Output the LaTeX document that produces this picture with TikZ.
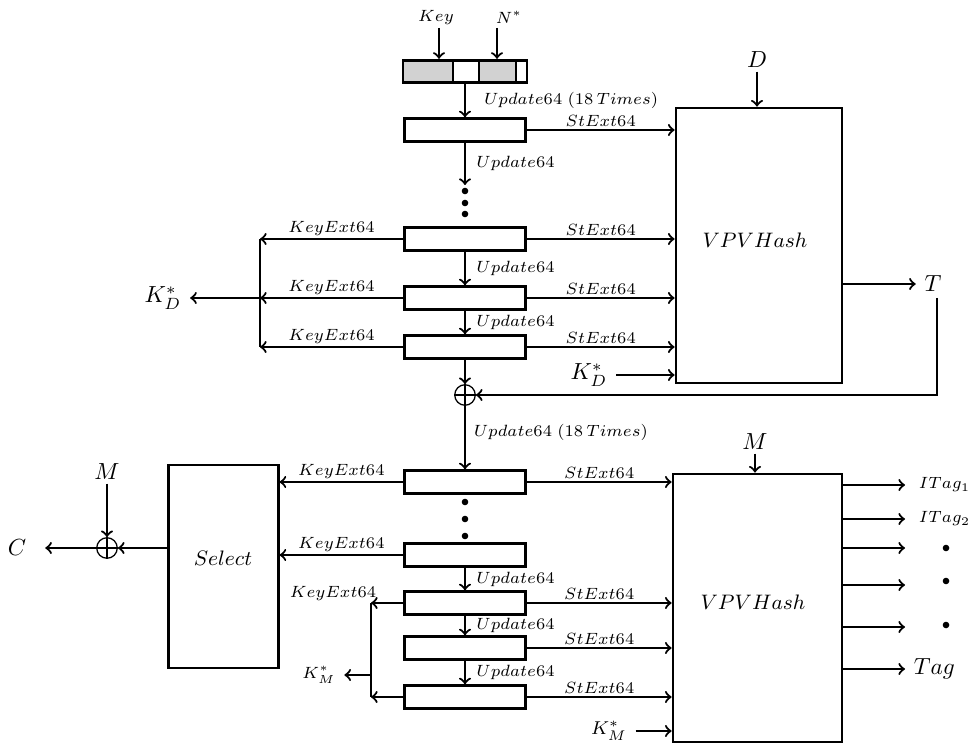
\documentclass[tikz,border=0pt]{standalone}
\usepackage{amsmath}
\usepackage{amssymb}
\usepackage{tikz}

\begin{document}
\begin{tikzpicture}[x=1.509mm, y=1.509mm, line width=0.93pt,
    stbox/.style={draw, line width=1.2pt, minimum width=18.25mm, minimum height=3.4mm, inner sep=0pt},
    hashbox/.style={draw, line width=1.2pt, inner sep=0pt},
    lbl/.style={font=\scriptsize, inner sep=1.1pt},
    xorop/.style={circle, draw, line width=0.55pt, minimum size=3.1mm, inner sep=0pt,
      path picture={\draw[line width=0.55pt] (path picture bounding box.north) -- (path picture bounding box.south)
        (path picture bounding box.west) -- (path picture bounding box.east);}}]
  \useasboundingbox (0,0) rectangle (97.1,-74.4);
  % key and nonce loaded into the state
  \fill[gray!35] (40.3,-6.0) rectangle (45.3,-8.3);
  \fill[gray!35] (47.9,-6.0) rectangle (51.6,-8.3);
  \node[stbox, minimum width=18.7mm] (reg) at (46.5,-7.15) {};
  \draw[line width=1.2pt] (45.3,-6.0) -- (45.3,-8.3) (47.9,-6.0) -- (47.9,-8.3) (51.6,-6.0) -- (51.6,-8.3);
  \node[lbl] (key) at (43.6,-1.8) {$Key$};
  \node[lbl] (nonce) at (50.9,-1.7) {$N^{*}$};
  \coordinate (kin) at (43.9,-2.8);
  \coordinate (nin) at (49.7,-2.8);
  \draw[->] (kin) -- (kin |- reg.north);
  \draw[->] (nin) -- (nin |- reg.north);
  % first chain (tag key)
  \node[stbox] (st1) at (46.5,-13.0) {};
  \node[stbox] (st2) at (46.5,-23.9) {};
  \node[stbox] (st3) at (46.5,-29.8) {};
  \node[stbox] (st4) at (46.5,-34.7) {};
  \draw[->] (reg) -- (st1) node[lbl, midway, right, xshift=6.6pt] {$Update64\;(18\,Times)$};
  \coordinate (dt) at (46.5,-18.5);
  \draw[->] (st1) -- (dt) node[lbl, midway, right, xshift=3.3pt] {$Update64$};
  \foreach \y in {-19.1,-20.3,-21.4} \fill (46.5,\y) circle (0.33);
  \draw[->] (st2) -- (st3) node[lbl, midway, right, xshift=3.3pt] {$Update64$};
  \draw[->] (st3) -- (st4) node[lbl, midway, right, xshift=3.3pt] {$Update64$};
  % first hash
  \node[hashbox, minimum width=25.05mm, minimum height=41.5mm] (vpv1) at (75.9,-24.55) {};
  \node[font=\small] (h1txt) at (75.5,-24.0) {$VPVHash$};
  \foreach \n in {1,...,4} \draw[->] (st\n.east) -- (st\n.east -| vpv1.west) node[lbl, midway, above] {$StExt64$};
  \node[inner sep=1.1pt] (dlab) at (75.7,-6.0) {$D$};
  \draw[->] (dlab) -- (dlab |- vpv1.north);
  \node (kdin) at (58.9,-37.5) {$K_D^{*}$};
  \draw[->] (kdin) -- (kdin -| vpv1.west);
  \node (tlab) at (93.3,-28.4) {$T$};
  \draw[->] (tlab -| vpv1.east) -- (tlab);
  % key words to the left
  \coordinate (kd) at (26.0,-29.8);
  \foreach \n in {2,3,4} \draw[->] (st\n.west) -- (st\n.west -| kd) node[lbl, midway, above] {$KeyExt64$};
  \draw (st2.west -| kd) -- (st4.west -| kd);
  \node (kdout) at (16.3,-29.8) {$K_D^{*}$};
  \draw[->] (kd) -- (kdout);
  % tag fed back into the state
  \node[xorop] (x1) at (46.5,-39.5) {};
  \draw[->] (st4) -- (x1);
  \coordinate (fb) at (93.7,-29.8);
  \draw[->] (fb) |- (x1);
  % second chain (message key)
  \node[stbox] (sb1) at (46.5,-48.2) {};
  \node[stbox] (sb2) at (46.5,-55.5) {};
  \node[stbox] (sb3) at (46.5,-60.3) {};
  \node[stbox] (sb4) at (46.5,-64.8) {};
  \node[stbox] (sb5) at (46.5,-69.7) {};
  \draw[->] (x1) -- (sb1) node[lbl, pos=0.42, right, xshift=2.2pt] {$Update64\;(18\,Times)$};
  \foreach \y in {-50.2,-51.9,-53.6} \fill (46.5,\y) circle (0.33);
  \draw[->] (sb2) -- (sb3) node[lbl, midway, right, xshift=3.3pt] {$Update64$};
  \draw[->] (sb3) -- (sb4) node[lbl, midway, right, xshift=3.3pt] {$Update64$};
  \draw[->] (sb4) -- (sb5) node[lbl, midway, right, xshift=3.3pt] {$Update64$};
  % second hash
  \node[hashbox, minimum width=25.5mm, minimum height=40.45mm] (vpv2) at (75.75,-60.8) {};
  \node[font=\small] (h2txt) at (75.3,-60.2) {$VPVHash$};
  \foreach \n in {1,3,4,5} \draw[->] (sb\n.east) -- (sb\n.east -| vpv2.west) node[lbl, midway, above] {$StExt64$};
  \node[inner sep=1.1pt] (mtop) at (75.5,-44.2) {$M$};
  \draw[->] (mtop) -- (mtop |- vpv2.north);
  \node[font=\footnotesize] (kmin) at (60.9,-73.1) {$K_M^{*}$};
  \draw[->] (kmin) -- (kmin -| vpv2.west);
  \foreach \y/\n in {-48.5/1,-51.9/2,-54.8/3,-58.5/4,-62.7/5,-66.9/6} {
    \coordinate (o\n) at (90.5,\y);
    \draw[->] (o\n -| vpv2.east) -- (o\n);
  }
  \node[lbl, right, xshift=4.4pt] (itag1) at (o1) {$ITag_1$};
  \node[lbl, right, xshift=4.4pt] (itag2) at (o2) {$ITag_2$};
  \node[right] (tag) at (o6) {$Tag$};
  \foreach \y in {-54.8,-58.1,-62.5} \fill (94.6,\y) circle (0.33);
  % select block
  \node[hashbox, minimum width=16.5mm, minimum height=30.65mm] (sel) at (22.35,-56.65) {};
  \node[font=\small] (seltxt) at (22.3,-55.8) {$Select$};
  \foreach \n in {1,2} \draw[->] (sb\n.west) -- (sb\n.west -| sel.east) node[lbl, midway, above] {$KeyExt64$};
  % message key words
  \coordinate (km) at (37.1,-67.5);
  \draw[->] (sb3.west) -- (sb3.west -| km);
  \draw[->] (sb5.west) -- (sb5.west -| km);
  \draw (sb3.west -| km) -- (sb5.west -| km);
  \node[lbl] (kext) at (33.3,-59.4) {$KeyExt64$};
  \node[font=\scriptsize] (kmout) at (31.9,-67.5) {$K_M^{*}$};
  \draw[->] (km) -- (kmout);
  % masking the message
  \node[xorop] (x2) at (10.7,-54.8) {};
  \node[inner sep=1.1pt] (mlab) at (10.7,-47.2) {$M$};
  \draw[->] (mlab) -- (x2);
  \draw[->] (x2 -| sel.west) -- (x2);
  \node (clab) at (1.7,-54.8) {$C$};
  \draw[->] (x2) -- ([xshift=4.4pt]clab.east);
\end{tikzpicture}
\end{document}
